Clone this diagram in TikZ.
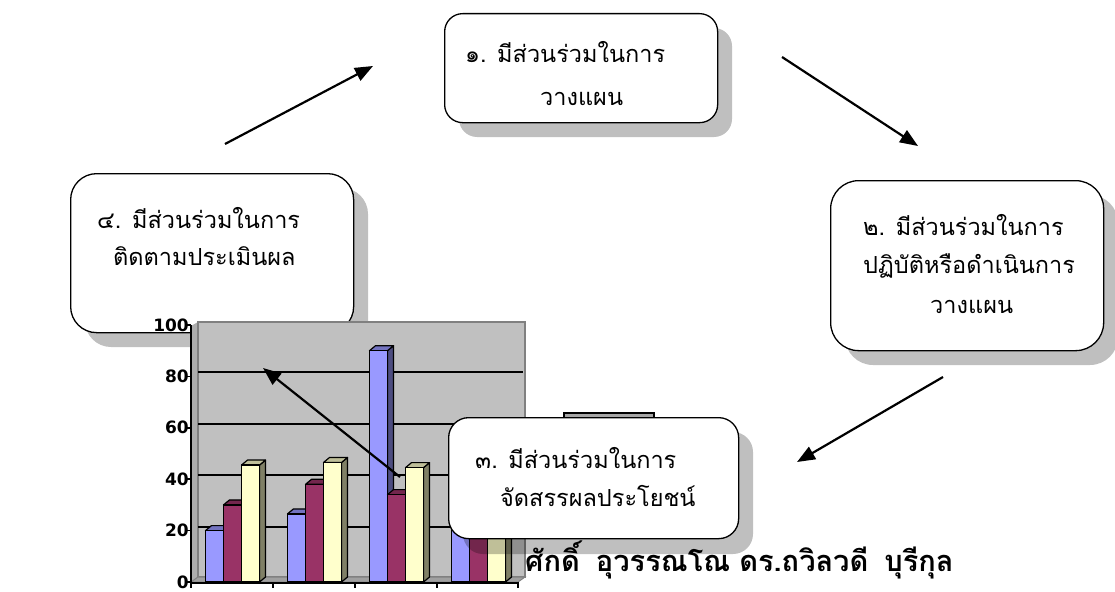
\documentclass[tikz,border=0pt]{standalone}
\usepackage{fontspec}
\newfontfamily\thaifont[Script=Thai]{Loma}
\newfontfamily\axisfont{DejaVu Sans}
\usetikzlibrary{arrows.meta}
\definecolor{wallc}{HTML}{C0C0C0}
\definecolor{wallborder}{HTML}{808080}
\definecolor{floorc}{HTML}{A0A0A0}
\definecolor{bluef}{HTML}{9999FF}
\definecolor{blues}{HTML}{4D4D80}
\definecolor{bluet}{HTML}{7373BF}
\definecolor{maroonf}{HTML}{993366}
\definecolor{maroons}{HTML}{4D1A33}
\definecolor{maroont}{HTML}{73264D}
\definecolor{yellowf}{HTML}{FFFFCC}
\definecolor{yellows}{HTML}{808066}
\definecolor{yellowt}{HTML}{BFBF99}
\definecolor{smallrect}{HTML}{A6A6A6}
\newcommand\chartbar[5]{%
  \pgfmathsetmacro\ytop{582-#2*2.57}%
  \pgfmathsetmacro\xr{#1+18}%
  \filldraw[barline, fill=#4] (\xr,\ytop) -- ++(6,-5) -- (\xr+6,577) -- (\xr,582) -- cycle;
  \filldraw[barline, fill=#5] (#1,\ytop) -- ++(6,-5) -- (\xr+6,\ytop-5) -- (\xr,\ytop) -- cycle;
  \filldraw[barline, fill=#3] (#1,\ytop) rectangle (\xr,582);
}
\begin{document}
\begin{tikzpicture}[x=1pt,y=-1pt,
  box/.style={draw, line width=1.3pt, fill=white, anchor=north west, inner sep=0pt},
  boxshadow/.style={fill=black, fill opacity=0.25},
  thaitext/.style={font=\thaifont\fontsize{23.5}{28}\selectfont, anchor=base west, inner sep=0pt},
  flowarrow/.style={line width=2.2pt, -{Triangle[length=18pt,width=14pt]}},
  barline/.style={draw=black, line width=1.2pt, line join=round},
  grid/.style={line width=1.9pt},
  axisline/.style={line width=1.5pt},
  ticklabel/.style={font=\axisfont\bfseries\fontsize{17}{19}\selectfont, anchor=east, inner sep=0pt}]
\useasboundingbox (0,0) rectangle (1115,591);

% shadows of boxes 4, 1, 2
\fill[boxshadow, rounded corners=26pt] (85,188) rectangle (368,347);
\fill[boxshadow, rounded corners=18pt] (459,28) rectangle (732,137);
\fill[boxshadow, rounded corners=28pt] (845,195) rectangle (1118,365);

% boxes
\node[box, rounded corners=26pt, minimum width=283pt, minimum height=159pt] (b4) at (70,173) {};
\node[box, rounded corners=18pt, minimum width=273pt, minimum height=109pt] (b1) at (444,13) {};
\node[box, rounded corners=28pt, minimum width=273pt, minimum height=170pt] (b2) at (830,180) {};

% texts of boxes
\node[thaitext] (b1l1) at (465,63) {๑. มีส่วนร่วมในการ};
\node[thaitext] (b1l2) at (540,106) {วางแผน};
\node[thaitext] (b2l1) at (863,235) {๒. มีส่วนร่วมในการ};
\node[thaitext] (b2l2) at (863,273) {ปฏิบัติหรือดำเนินการ};
\node[thaitext] (b2l3) at (930,313) {วางแผน};
\node[thaitext] (b4l1) at (97,228) {๔. มีส่วนร่วมในการ};
\node[thaitext] (b4l2) at (113,265) {ติดตามประเมินผล};

% arrow end points
\coordinate (a41s) at (225,144);
\coordinate (a41e) at (373,66);
\coordinate (a12s) at (782,57);
\coordinate (a12e) at (918,146);
\coordinate (a23s) at (943,377);
\coordinate (a23e) at (797,462);
\coordinate (a34s) at (400,477);
\coordinate (a34e) at (263,368);

\draw[flowarrow] (a41s) -- (a41e);
\draw[flowarrow] (a12s) -- (a12e);
\draw[flowarrow] (a23s) -- (a23e);

% chart: walls and floor
\fill[wallc!90!black] (191,326) -- (198,322) -- (198,577) -- (191,582) -- cycle;
\filldraw[fill=wallc, draw=wallborder, line width=1.5pt] (198,322) rectangle (525,577);
\filldraw[fill=floorc, draw=wallborder, line width=1pt] (191,582) -- (198,577) -- (525,577) -- (518,582) -- cycle;
\foreach \v in {20,40,60,80} {
  \draw[grid] (198,{582-\v*2.57-4}) -- (523,{582-\v*2.57-4});
}
% bars
\foreach \gx/\va/\vb/\vc in {191/20/30/45.5, 273/26.5/38/46.5, 355/90/34/44.5, 437/24/32/45} {
  \pgfmathsetmacro\xa{\gx+14.5}
  \pgfmathsetmacro\xb{\gx+32.5}
  \pgfmathsetmacro\xc{\gx+50.5}
  \chartbar{\xa}{\va}{bluef}{blues}{bluet}
  \chartbar{\xb}{\vb}{maroonf}{maroons}{maroont}
  \chartbar{\xc}{\vc}{yellowf}{yellows}{yellowt}
}
% axes
\draw[axisline] (191,583) -- (191,325);
\draw[axisline] (191,583) -- (519,583);
\foreach \v in {0,20,40,60,80,100} {
  \draw[axisline] (186,{582-\v*2.57}) -- (191,{582-\v*2.57});
  \node[ticklabel] at (189,{582-\v*2.57}) {\v};
}
\foreach \xt in {191,273,355,437,518} {
  \draw[axisline] (\xt,583) -- (\xt,588);
}

% small rectangle behind box 3
\filldraw[fill=smallrect, draw=black, line width=1.2pt] (564,413) rectangle (654,440);

% box 3
\fill[boxshadow, rounded corners=20pt] (463,432) rectangle (753,554);
\node[box, rounded corners=20pt, minimum width=290pt, minimum height=121pt] (b3) at (448,417) {};
\node[thaitext] (b3l1) at (475,468) {๓. มีส่วนร่วมในการ};
\node[thaitext] (b3l2) at (500,506) {จัดสรรผลประโยชน์};

\draw[flowarrow] (a34s) -- (a34e);

% author line
\node[thaitext, font=\thaifont\bfseries\fontsize{29}{33}\selectfont] (author) at (525,571) {ศักดิ์\hspace{16pt}อุวรรณโณ\hspace{9pt}ดร.ถวิลวดี\hspace{16pt}บุรีกุล};
\end{tikzpicture}
\end{document}
